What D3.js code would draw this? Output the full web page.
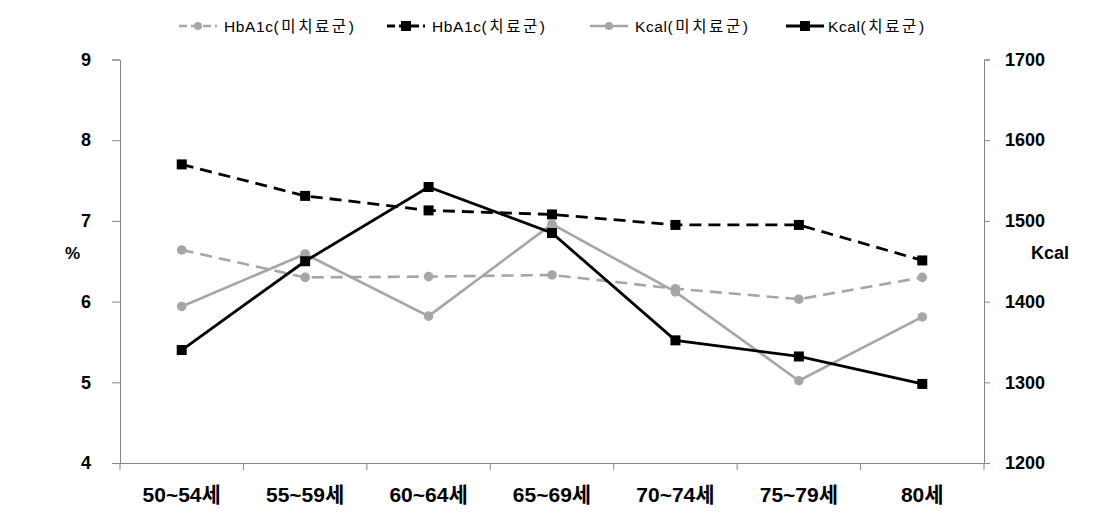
<!DOCTYPE html>
<html><head><meta charset="utf-8">
<script src="https://cdn.jsdelivr.net/npm/d3@7"></script>
<style>body{margin:0;background:#fff}svg{display:block}</style>
</head><body><svg id="c" width="1094" height="523"></svg>
<script>
const categories = ["50~54세","55~59세","60~64세","65~69세","70~74세","75~79세","80세"];
const hba1cUntreated = [6.64, 6.30, 6.31, 6.33, 6.16, 6.03, 6.30];
const hba1cTreated   = [7.70, 7.31, 7.13, 7.08, 6.95, 6.95, 6.51];
const kcalUntreated  = [1394, 1459, 1382, 1496, 1412, 1302, 1381];
const kcalTreated    = [1340, 1450, 1542, 1485, 1352, 1332, 1298];
const leftTicks = [4,5,6,7,8,9];
const rightTicks = [1200,1300,1400,1500,1600,1700];
const seriesNames = ["HbA1c(미치료군)","HbA1c(치료군)","Kcal(미치료군)","Kcal(치료군)"];

const svg = d3.select("#c");
const L = 120, R = 984, T = 59.5, B = 463;
const GRAY = "#a6a6a6", AX = "#868686";
const numFont = "'Liberation Sans', Arial, sans-serif";
const mixFont = "'Liberation Sans', 'Noto Sans CJK KR', sans-serif";

const x = d3.scaleBand().domain(categories).range([L, R]);
const yL = d3.scaleLinear().domain([4, 9]).range([B, T]);
const yR = d3.scaleLinear().domain([1200, 1700]).range([B, T]);

// axes
const gl = svg.append("g").attr("transform", `translate(${L},0)`)
  .call(d3.axisLeft(yL).tickValues(leftTicks).tickFormat(d3.format("d")).tickSize(8).tickPadding(21));
const gr = svg.append("g").attr("transform", `translate(${R},0)`)
  .call(d3.axisRight(yR).tickValues(rightTicks).tickFormat(d3.format("d")).tickSize(6).tickPadding(15));
const gx = svg.append("g").attr("transform", `translate(0,${B})`)
  .call(d3.axisBottom(x).tickSize(0).tickPadding(24));
[gl, gr, gx].forEach(g => {
  g.select(".domain").attr("stroke", AX).attr("stroke-width", 1);
  g.selectAll(".tick line").attr("stroke", AX);
});
gl.selectAll("text").attr("font-family", numFont).attr("font-weight", "bold").attr("font-size", 18).attr("fill", "#000");
gr.selectAll("text").attr("font-family", numFont).attr("font-weight", "bold").attr("font-size", 18).attr("fill", "#000");
gx.selectAll("text").attr("font-family", mixFont).attr("font-weight", "bold").attr("font-size", 21).attr("fill", "#000");
gx.select(".domain").attr("d", `M${L-8},0.5H${R+6}`);
// category boundary ticks
const bounds = categories.map(c => x(c)).concat([R]);
svg.append("g").selectAll("line").data(bounds).join("line")
  .attr("x1", d => d).attr("x2", d => d).attr("y1", B).attr("y2", B + 7)
  .attr("stroke", AX);

// axis titles
svg.append("text").attr("x", 72.5).attr("y", 259).attr("text-anchor", "middle")
  .attr("font-family", numFont).attr("font-weight", "bold").attr("font-size", 17).text("%");
svg.append("text").attr("x", 1050).attr("y", 259).attr("text-anchor", "middle")
  .attr("font-family", numFont).attr("font-weight", "bold").attr("font-size", 18).text("Kcal");

const cx = c => x(c) + x.bandwidth() / 2;
const series = [
  {name: seriesNames[0], vals: hba1cUntreated, y: yL, color: GRAY, dash: "12,7", w: 2.6, mark: "circle"},
  {name: seriesNames[1], vals: hba1cTreated, y: yL, color: "#000", dash: "12,7", w: 2.8, mark: "square"},
  {name: seriesNames[2], vals: kcalUntreated, y: yR, color: GRAY, dash: null, w: 2.6, mark: "circle"},
  {name: seriesNames[3], vals: kcalTreated, y: yR, color: "#000", dash: null, w: 2.8, mark: "square"},
];

const plot = svg.append("g");
series.forEach(s => {
  const pts = categories.map((c, i) => [cx(c), s.y(s.vals[i])]);
  plot.append("path").attr("d", d3.line()(pts)).attr("fill", "none")
    .attr("stroke", s.color).attr("stroke-width", s.w)
    .attr("stroke-dasharray", s.dash);
  const g = plot.append("g");
  if (s.mark === "circle") {
    g.selectAll("circle").data(pts).join("circle").attr("cx", d => d[0]).attr("cy", d => d[1])
      .attr("r", 4.8).attr("fill", s.color);
  } else {
    g.selectAll("rect").data(pts).join("rect").attr("x", d => d[0] - 5).attr("y", d => d[1] - 5)
      .attr("width", 10).attr("height", 10).attr("fill", s.color);
  }
});

// legend
const legX = [179, 387, 590, 786];
const legY = 26;
series.forEach((s, i) => {
  const g = svg.append("g").attr("transform", `translate(${legX[i]},${legY})`);
  g.append("line").attr("x1", 0).attr("x2", 38).attr("y1", 0).attr("y2", 0)
    .attr("stroke", s.color).attr("stroke-width", s.w)
    .attr("stroke-dasharray", s.dash ? "8,4" : null);
  if (s.mark === "circle") g.append("circle").attr("cx", 19).attr("cy", 0).attr("r", 4).attr("fill", s.color);
  else g.append("rect").attr("x", 14).attr("y", -5).attr("width", 10).attr("height", 10).attr("fill", s.color);
  const idx = s.name.indexOf("(");
  const t = g.append("text").attr("x", i === 3 ? 42 : 45).attr("y", 5.5).attr("font-family", mixFont)
    .attr("font-size", 15.5).attr("fill", "#000");
  t.append("tspan").attr("letter-spacing", 0.6).text(s.name.slice(0, idx));
  t.append("tspan").attr("letter-spacing", 2.6).text(s.name.slice(idx));
});
</script></body></html>
